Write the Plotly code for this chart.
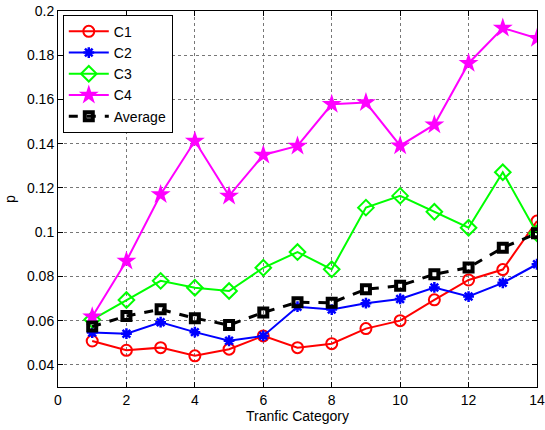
import plotly.graph_objects as go

# Traffic categories and per-class probability p
categories = list(range(1, 15))
c1 = [0.0508, 0.0466, 0.0478, 0.0441, 0.0471, 0.0531, 0.0478, 0.0496, 0.0564, 0.0600, 0.0694, 0.0784, 0.0831, 0.1050]
c2 = [0.0546, 0.0541, 0.0593, 0.0548, 0.0509, 0.0531, 0.0663, 0.0650, 0.0679, 0.0698, 0.0750, 0.0709, 0.0771, 0.0855]
c3 = [0.0605, 0.0693, 0.0780, 0.0749, 0.0734, 0.0839, 0.0910, 0.0832, 0.1111, 0.1164, 0.1092, 0.1020, 0.1271, 0.0995]
c4 = [0.0618, 0.0870, 0.1170, 0.1412, 0.1164, 0.1349, 0.1390, 0.1578, 0.1586, 0.1391, 0.1486, 0.1764, 0.1923, 0.1877]
avg = [0.0573, 0.0621, 0.0651, 0.0611, 0.0580, 0.0637, 0.0683, 0.0681, 0.0742, 0.0758, 0.0810, 0.0840, 0.0930, 0.0995]

x_ticks = [0, 2, 4, 6, 8, 10, 12, 14]
y_ticks = [0.04, 0.06, 0.08, 0.1, 0.12, 0.14, 0.16, 0.18, 0.2]
y_ticktext = ["0.04", "0.06", "0.08", "0.1", "0.12", "0.14", "0.16", "0.18", "0.2"]

series = [
    ("C1", c1, "#ff0000", dict(symbol="circle-open", size=11, line=dict(width=2, color="#ff0000")), "solid", 2),
    ("C2", c2, "#0000ff", dict(symbol="asterisk-open", size=9, line=dict(width=2.5, color="#0000ff")), "solid", 2),
    ("C3", c3, "#00ff00", dict(symbol="diamond-open", size=12, line=dict(width=2, color="#00ff00")), "solid", 2),
    ("C4", c4, "#ff00ff", dict(symbol="star", size=15, color="#ff00ff", line=dict(width=0)), "solid", 2),
    ("Average", avg, "#000000", dict(symbol="square-open", size=8, line=dict(width=4, color="#000000")), "dash", 3),
]

fig = go.Figure()
for name, vals, color, marker, dash, width in series:
    fig.add_trace(go.Scatter(
        x=categories, y=vals, name=name, mode="lines+markers",
        line=dict(color=color, width=width, dash=dash),
        marker=marker,
    ))

axis_common = dict(
    showline=True, linecolor="black", linewidth=1, mirror="ticks",
    ticks="inside", ticklen=5, tickcolor="black",
    showgrid=True, gridcolor="#777777", griddash="dot", gridwidth=1,
    zeroline=False, automargin=False,
    tickfont=dict(family="Liberation Sans, Arial, sans-serif", size=14, color="black"),
)

fig.update_layout(
    width=545, height=430,
    margin=dict(l=58, r=8, t=11, b=43, autoexpand=False),
    paper_bgcolor="white", plot_bgcolor="white",
    font=dict(family="Liberation Sans, Arial, sans-serif", size=14, color="black"),
    xaxis=dict(range=[0, 14], tickvals=x_ticks,
               title=dict(text="Tranfic Category", standoff=2, font=dict(size=14)),
               **axis_common),
    yaxis=dict(range=[0.03, 0.2], tickvals=y_ticks, ticktext=y_ticktext,
               title=dict(text="p", standoff=8, font=dict(size=14)),
               **axis_common),
    legend=dict(
        x=0.01, y=0.99, xanchor="left", yanchor="top",
        bordercolor="black", borderwidth=1, bgcolor="white",
        font=dict(size=14), tracegroupgap=0, itemwidth=40,
    ),
    showlegend=True,
)

fig.write_html("out.html")
